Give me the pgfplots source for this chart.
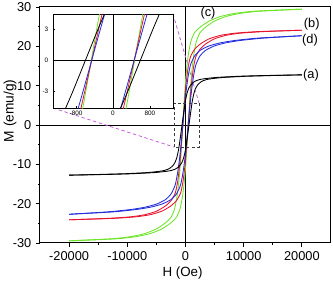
\documentclass[border=0pt]{standalone}
\usepackage{fontspec}
\setmainfont{Liberation Sans}
\usepackage{pgfplots}
\usepackage{pgfplotstable}
\pgfplotsset{compat=1.18}

\definecolor{cgreen}{RGB}{110,228,40}
\definecolor{cred}{RGB}{230,20,45}
\definecolor{cblue}{RGB}{35,45,220}
\definecolor{cmag}{RGB}{195,95,215}
\definecolor{cbox}{RGB}{60,60,60}

% (a) black
\pgfplotstableread{
hu mu hl ml
20000 12.75 -20000 -12.75
14405 12.6 -14405 -12.6
9405 12.4 -9405 -12.4
5405 12.1 -5405 -12.1
3405 11.8 -3405 -11.8
2405 11.55 -2405 -11.55
1905 11.3 -1905 -11.3
1405 10.9 -1405 -10.9
905 10.2 -905 -10.2
605 9.5 -605 -9.5
305 8.3 -305 -8.3
5 6.3 -5 -6.3
-295 3.3 295 -3.3
-595 0 595 0
-895 -3.3 895 3.3
-1195 -6.3 1195 6.3
-1495 -8.3 1495 8.3
-1795 -9.5 1795 9.5
-2095 -10.2 2095 10.2
-2595 -10.9 2595 10.9
-3095 -11.3 3095 11.3
-3595 -11.55 3595 11.55
-4595 -11.8 4595 11.8
-6595 -12.1 6595 12.1
-10595 -12.4 10595 12.4
-15595 -12.6 15595 12.6
-20000 -12.75 20000 12.75
}\loopa

% (b) red
\pgfplotstableread{
hu mu hl ml
20000 24.1 -20000 -24.1
12540 23.75 -12540 -23.75
8540 23.35 -8540 -23.35
6040 22.8 -6040 -22.8
4040 21.9 -4040 -21.9
2540 20.6 -2540 -20.6
1540 19.2 -1540 -19.2
840 17.3 -840 -17.3
440 14.5 -440 -14.5
140 11.0 -140 -11.0
-60 7.8 60 -7.8
-260 4.0 260 -4.0
-460 0 460 0
-660 -4.0 660 4.0
-860 -7.8 860 7.8
-1060 -11.0 1060 11.0
-1360 -14.5 1360 14.5
-1760 -17.3 1760 17.3
-2460 -19.2 2460 19.2
-3460 -20.6 3460 20.6
-4960 -21.9 4960 21.9
-6960 -22.8 6960 22.8
-9460 -23.35 9460 23.35
-13460 -23.75 13460 23.75
-20000 -24.1 20000 24.1
}\loopb

% (c) green
\pgfplotstableread{
hu mu hl ml
20000 29.45 -20000 -29.45
15530 29.2 -15530 -29.2
11530 28.9 -11530 -28.9
8530 28.4 -8530 -28.4
6030 27.6 -6030 -27.6
4030 26.4 -4030 -26.4
2530 24.9 -2530 -24.9
1530 23.4 -1530 -23.4
930 21.3 -930 -21.3
530 18.3 -530 -18.3
230 14.8 -230 -14.8
30 11.6 -30 -11.6
-170 7.4 170 -7.4
-320 3.8 320 -3.8
-470 0 470 0
-620 -3.8 620 3.8
-770 -7.4 770 7.4
-970 -11.6 970 11.6
-1170 -14.8 1170 14.8
-1470 -18.3 1470 18.3
-1870 -21.3 1870 21.3
-2470 -23.4 2470 23.4
-3470 -24.9 3470 24.9
-4970 -26.4 4970 26.4
-6970 -27.6 6970 27.6
-9470 -28.4 9470 28.4
-12470 -28.9 12470 28.9
-16470 -29.2 16470 29.2
-20000 -29.45 20000 29.45
}\loopc

% (d) blue
\pgfplotstableread{
hu mu hl ml
20000 22.7 -20000 -22.7
12540 22.1 -12540 -22.1
8540 21.5 -8540 -21.5
6040 20.9 -6040 -20.9
4040 20.1 -4040 -20.1
2540 19.0 -2540 -19.0
1540 17.5 -1540 -17.5
840 15.2 -840 -15.2
440 12.2 -440 -12.2
140 9.0 -140 -9.0
-60 6.3 60 -6.3
-260 3.2 260 -3.2
-460 0 460 0
-660 -3.2 660 3.2
-860 -6.3 860 6.3
-1060 -9.0 1060 9.0
-1360 -12.2 1360 12.2
-1760 -15.2 1760 15.2
-2460 -17.5 2460 17.5
-3460 -19.0 3460 19.0
-4960 -20.1 4960 20.1
-6960 -20.9 6960 20.9
-9460 -21.5 9460 21.5
-13460 -22.1 13460 22.1
-20000 -22.7 20000 22.7
}\loopd

\begin{document}
\begin{tikzpicture}
\begin{axis}[
  name=main, at={(0,0)}, anchor=south west,
  scale only axis, width=218.25pt, height=177pt,
  xmin=-25000, xmax=25000, ymin=-30, ymax=30,
  xtick={-20000,-10000,0,10000,20000},
  ytick={-30,-20,-10,0,10,20,30},
  minor x tick num=1, minor y tick num=1,
  tick align=outside, xtick pos=left, ytick pos=left,
  major tick length=3pt, minor tick length=1.8pt,
  every tick/.style={black, line width=0.6pt},
  axis line style={line width=0.75pt},
  scaled x ticks=false,
  tick label style={font=\fontsize{9.6}{11}\selectfont},
  /pgf/number format/assume math mode=true,
  /pgf/number format/1000 sep={},
  xlabel={H (Oe)}, ylabel={M (emu/g)},
  every axis x label/.style={at={(axis description cs:0.49,-0.127)}, anchor=center, font=\fontsize{10}{12}\selectfont},
  every axis y label/.style={at={(axis description cs:-0.1031,0.56)}, anchor=center, rotate=90, font=\fontsize{10.3}{12}\selectfont},
  clip=false,
]
\draw[line width=0.5pt] (axis cs:0,-30) -- (axis cs:0,30);
\draw[line width=0.5pt] (axis cs:-25000,0) -- (axis cs:25000,0);
\addplot[cgreen, line width=0.65pt, smooth, tension=0.35] table[x=hu,y=mu]{\loopc};
\addplot[cgreen, line width=0.65pt, smooth, tension=0.35] table[x=hl,y=ml]{\loopc};
\addplot[cred, line width=0.65pt, smooth, tension=0.35] table[x=hu,y=mu]{\loopb};
\addplot[cred, line width=0.65pt, smooth, tension=0.35] table[x=hl,y=ml]{\loopb};
\addplot[cblue, line width=0.65pt, smooth, tension=0.35] table[x=hu,y=mu]{\loopd};
\addplot[cblue, line width=0.65pt, smooth, tension=0.35] table[x=hl,y=ml]{\loopd};
\addplot[black, line width=0.65pt, smooth, tension=0.35] table[x=hu,y=mu]{\loopa};
\addplot[black, line width=0.65pt, smooth, tension=0.35] table[x=hl,y=ml]{\loopa};
\draw[cbox, line width=0.6pt, dash pattern=on 2.2pt off 1.8pt] (axis cs:-1976,-5.6) rectangle (axis cs:2320,5.6);
\draw[cmag, line width=0.6pt, dash pattern=on 2.5pt off 2pt] (axis cs:-22766,4.32) -- (axis cs:-1976,-5.6);
\draw[cmag, line width=0.6pt, dash pattern=on 2.5pt off 2pt] (axis cs:-2148,28.22) -- (axis cs:2320,5.6);
\node[font=\fontsize{9.6}{11}\selectfont] at (axis cs:3870,28.5) {(c)};
\node[font=\fontsize{9.6}{11}\selectfont] at (axis cs:21700,25.7) {(b)};
\node[font=\fontsize{9.6}{11}\selectfont] at (axis cs:21400,21.6) {(d)};
\node[font=\fontsize{9.6}{11}\selectfont] at (axis cs:21560,12.7) {(a)};
\coordinate (insSW) at (axis cs:-22766,4.32);
\end{axis}
\begin{axis}[
  at={(insSW)}, anchor=south west,
  scale only axis, width=90pt, height=70.5pt,
  xmin=-1300, xmax=1300, ymin=-4.65, ymax=4.45,
  xtick={-800,0,800}, ytick={-3,0,3},
  tick align=inside, xtick pos=left, ytick pos=left,
  major tick length=1.5pt,
  every tick/.style={black, line width=0.5pt},
  axis line style={line width=0.6pt},
  axis background/.style={fill=white},
  tick label style={font=\fontsize{4.8}{5.5}\selectfont},
  xticklabel style={yshift=1pt},
  /pgf/number format/assume math mode=true,
]
\draw[line width=0.5pt] (axis cs:0,-4.65) -- (axis cs:0,4.45);
\draw[line width=0.5pt] (axis cs:-1300,0) -- (axis cs:1300,0);
\addplot[cgreen, line width=0.6pt, smooth, tension=0.35] table[x=hu,y=mu]{\loopc};
\addplot[cgreen, line width=0.6pt, smooth, tension=0.35] table[x=hl,y=ml]{\loopc};
\addplot[cred, line width=0.6pt, smooth, tension=0.35] table[x=hu,y=mu]{\loopb};
\addplot[cred, line width=0.6pt, smooth, tension=0.35] table[x=hl,y=ml]{\loopb};
\addplot[cblue, line width=0.6pt, smooth, tension=0.35] table[x=hu,y=mu]{\loopd};
\addplot[cblue, line width=0.6pt, smooth, tension=0.35] table[x=hl,y=ml]{\loopd};
\addplot[black, line width=0.6pt, smooth, tension=0.35] table[x=hu,y=mu]{\loopa};
\addplot[black, line width=0.6pt, smooth, tension=0.35] table[x=hl,y=ml]{\loopa};
\end{axis}
\pgfresetboundingbox
\path (-30pt,-29.25pt) rectangle (219.75pt,182.25pt);
\end{tikzpicture}
\end{document}
